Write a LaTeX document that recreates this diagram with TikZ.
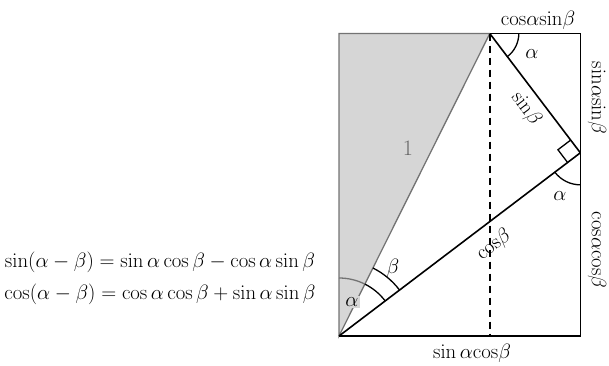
\documentclass[tikz,border=0pt]{standalone}
\usetikzlibrary{calc,positioning}
\begin{document}
\begin{tikzpicture}[x=1pt,y=1pt,font=\fontsize{22}{26}\selectfont,
  edge/.style={line width=1.6pt},
  shadeedge/.style={draw=black!55,line width=1.3pt},
  anglemark/.style={line width=1.3pt},
  formula/.style={inner sep=3pt}]
\useasboundingbox (-339,-29) rectangle (270,336);
\def\al{26.5}\def\be{26.3}\def\len{338}

% corner points
\coordinate (O) at (0,0);
\coordinate (P) at (90-\al:\len);
\coordinate (Q) at ({90-\al-\be}:{\len*cos(\be)});
\coordinate (TL) at (O |- P);
\coordinate (TR) at (Q |- P);
\coordinate (BR) at (Q |- O);
\coordinate (F) at (P |- O);

%Shape: shaded triangle
\fill[black!16] (O) -- (TL) -- (P) -- cycle;
\draw[shadeedge] (P) -- (TL) -- (O) -- (P);
%Straight Lines
\draw[edge] (P) -- (TR) -- (BR) -- (O);
\draw[edge] (O) -- (Q);
\draw[edge] (P) -- (Q);
\draw[edge,dash pattern=on 7pt off 5pt] (P) -- (F);

%Angle marks
\draw[anglemark,shift={(Q)},rotate={270-\al-\be}] (16,0) -- (16,-16) -- (0,-16);
\draw[anglemark] ([shift={(0:29)}]P) arc[start angle=0,end angle={-\al-\be},radius=29];
\draw[anglemark] ([shift={(270:32)}]Q) arc[start angle=270,end angle={270-\al-\be},radius=32];
\draw[shadeedge] ([shift={(90:58)}]O) arc[start angle=90,end angle={90-\al},radius=58];
\draw[anglemark] ([shift={(90-\al:58)}]O) arc[start angle={90-\al},end angle={90-\al-\be},radius=58];
\draw[anglemark] ([shift={(90-\al:76)}]O) arc[start angle={90-\al},end angle={90-\al-\be},radius=76];

% Text Node
\node[text=black!60] (one) at (69,188) {1};
\node (alP) at (193,282) {$\alpha$};
\node (alQ) at (221,140) {$\alpha$};
\node[fill=black!16,inner sep=1.5pt] (alO) at (13,34) {$\alpha$};
\node (beO) at (54,68) {$\beta$};
\node[rotate={90-\al-\be}] (lblcosb) at (155,91) {$\mathrm{cos}\beta$};
\node[rotate={-\al-\be}] (lblsinb) at (187,227) {$\mathrm{sin}\beta$};
\node (lbltop) at (199,316) {$\mathrm{cos}\alpha\mathrm{sin}\beta$};
\node[rotate=-90] (lblrtop) at (258,238) {$\mathrm{sin}\alpha\mathrm{sin}\beta$};
\node[rotate=-90] (lblrbot) at (258,86) {$\mathrm{cos}\alpha\mathrm{cos}\beta$};
\node (lblbot) at (133,-17) {$\mathrm{sin}\,\alpha\mathrm{cos}\beta$};

% Formulas
\node[formula] (frmsin) at (-179,74) {$\sin(\alpha-\beta)=\sin\alpha\cos\beta-\cos\alpha\sin\beta$};
\node[formula,below=5pt of frmsin] (frmcos) {$\cos(\alpha-\beta)=\cos\alpha\cos\beta+\sin\alpha\sin\beta$};
\end{tikzpicture}
\end{document}
